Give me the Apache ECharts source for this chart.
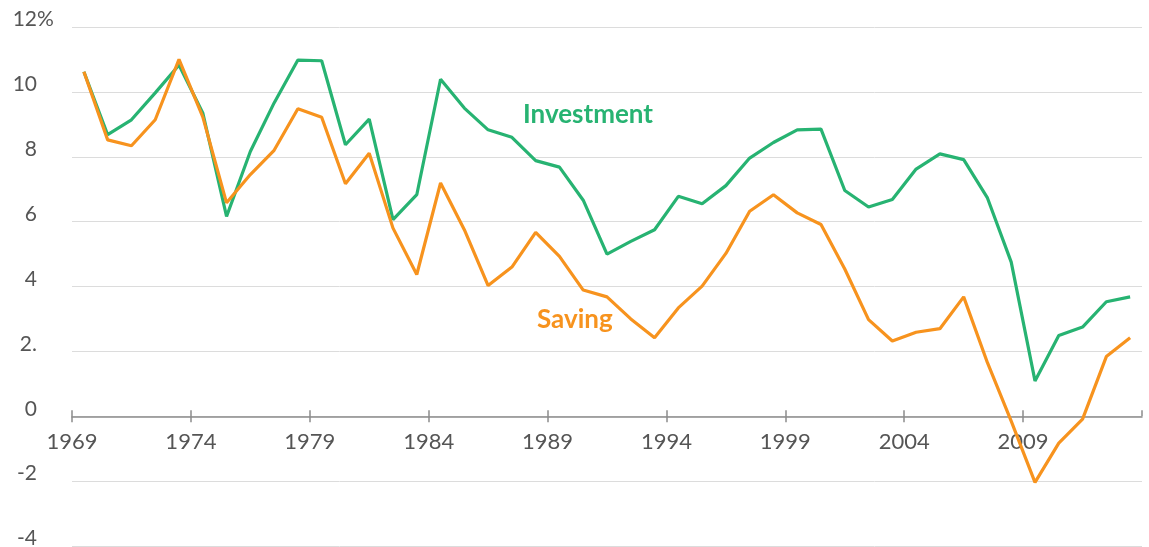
<!DOCTYPE html>
<html>
<head>
<meta charset="utf-8">
<script src="https://cdn.jsdelivr.net/npm/echarts@6/dist/echarts.min.js"></script>
<style>
  html, body { margin: 0; padding: 0; background: #fff; }
  #chart { width: 1149px; height: 547px; }
</style>
</head>
<body>
<div id="chart"></div>
<script>
// values are % of GDP, one per year
var years = [];
for (var y = 1969; y <= 2013; y++) years.push(y);

var investment = [
    10.62, 8.68, 9.14, 9.97, 10.83, 9.35, 6.16, 8.16, 9.66, 10.98,
    10.96, 8.37, 9.16, 6.06, 6.83, 10.39, 9.50, 8.83, 8.60, 7.88,
    7.68, 6.66, 5.00, 5.39, 5.75, 6.78, 6.55, 7.11, 7.96, 8.44,
    8.83, 8.85, 6.96, 6.45, 6.68, 7.62, 8.09, 7.91, 6.73, 4.75,
    1.09, 2.49, 2.75, 3.53, 3.68
];
var saving = [
    10.62, 8.52, 8.34, 9.14, 11.00, 9.23, 6.58, 7.45, 8.20, 9.48,
    9.22, 7.17, 8.11, 5.80, 4.37, 7.19, 5.75, 4.03, 4.60, 5.67,
    4.93, 3.89, 3.68, 3.00, 2.42, 3.34, 4.01, 5.02, 6.32, 6.83,
    6.27, 5.91, 4.54, 2.98, 2.32, 2.59, 2.70, 3.68, 1.65, -0.15,
    -2.04, -0.83, -0.09, 1.84, 2.42
];
var yTickLabels = { '12': '12', '10': '10', '8': '8', '6': '6', '4': '4', '2': '2.', '0': '0', '-2': '-2', '-4': '-4' };

var green = '#27b372';
var orange = '#f7931e';
var textGrey = '#555555';
var axisGrey = '#8c8c8c';
var chartHeight = 547;
var gridBottom = 1;

function pairs(vals) {
    // each annual value sits in the middle of its year
    return vals.map(function (v, i) { return [years[i] + 0.5, v]; });
}

var chart = echarts.init(document.getElementById('chart'));
var option = {
    animation: false,
    grid: { left: 72, right: 7, top: 27, bottom: gridBottom, containLabel: false, outerBoundsMode: 'none' },
    xAxis: [
        {
            type: 'value',
            min: 1969,
            max: 2014,
            interval: 5,
            position: 'bottom',
            axisLine: { onZero: false, lineStyle: { color: axisGrey, width: 1.5 } },
            axisTick: { show: true, length: 6, lineStyle: { color: axisGrey, width: 1.5 } },
            splitLine: { show: false },
            axisLabel: {
                margin: 15,
                fontFamily: 'Lato',
                fontSize: 22,
                lineHeight: 22,
                color: textGrey,
                showMaxLabel: false,
                formatter: function (v) { return String(v); }
            }
        },
        {
            type: 'value',
            min: 1969,
            max: 2014,
            interval: 5,
            position: 'bottom',
            axisLine: { show: false, onZero: false },
            axisTick: { show: true, inside: true, length: 6, lineStyle: { color: axisGrey, width: 1.5 } },
            splitLine: { show: false },
            axisLabel: { show: false }
        }
    ],
    yAxis: [
        {
            type: 'value',
            min: -4,
            max: 12,
            interval: 2,
            axisLine: { show: false },
            axisTick: { show: false },
            splitLine: { lineStyle: { color: '#dcdcdc', width: 1 } },
            axisLabel: {
                margin: 35,
                align: 'right',
                verticalAlign: 'bottom',
                fontFamily: 'Lato',
                fontSize: 21,
                lineHeight: 15,
                color: textGrey,
                formatter: function (v) { return yTickLabels[String(v)]; }
            }
        },
        {
            // only carries the "%" after the top label
            type: 'value',
            position: 'left',
            min: -4,
            max: 12,
            interval: 2,
            axisLine: { show: false },
            axisTick: { show: false },
            splitLine: { show: false },
            axisLabel: {
                margin: 35,
                align: 'left',
                verticalAlign: 'bottom',
                fontFamily: 'Lato',
                fontSize: 21,
                lineHeight: 15,
                color: textGrey,
                formatter: function (v) { return v === 12 ? '%' : ''; }
            }
        }
    ],
    graphic: [
        {
            type: 'text',
            left: 523,
            top: 102,
            style: { text: 'Investment', fill: green, font: 'bold 26px Lato' }
        },
        {
            type: 'text',
            left: 537,
            top: 307,
            style: { text: 'Saving', fill: orange, font: 'bold 26px Lato' }
        }
    ],
    series: [
        {
            name: 'Investment',
            type: 'line',
            data: pairs(investment),
            symbol: 'none',
            lineStyle: { color: green, width: 3.2 },
            z: 3
        },
        {
            name: 'Saving',
            type: 'line',
            data: pairs(saving),
            symbol: 'none',
            lineStyle: { color: orange, width: 3.2 },
            z: 4
        }
    ]
};
chart.setOption(option);

// lift the year axis (line, ticks and labels) up to the zero line
var zeroY = chart.convertToPixel({ yAxisIndex: 0 }, 0);
var lift = -(chartHeight - gridBottom - zeroY);
chart.setOption({ xAxis: [{ offset: lift }, { offset: lift }] });
</script>
</body>
</html>
